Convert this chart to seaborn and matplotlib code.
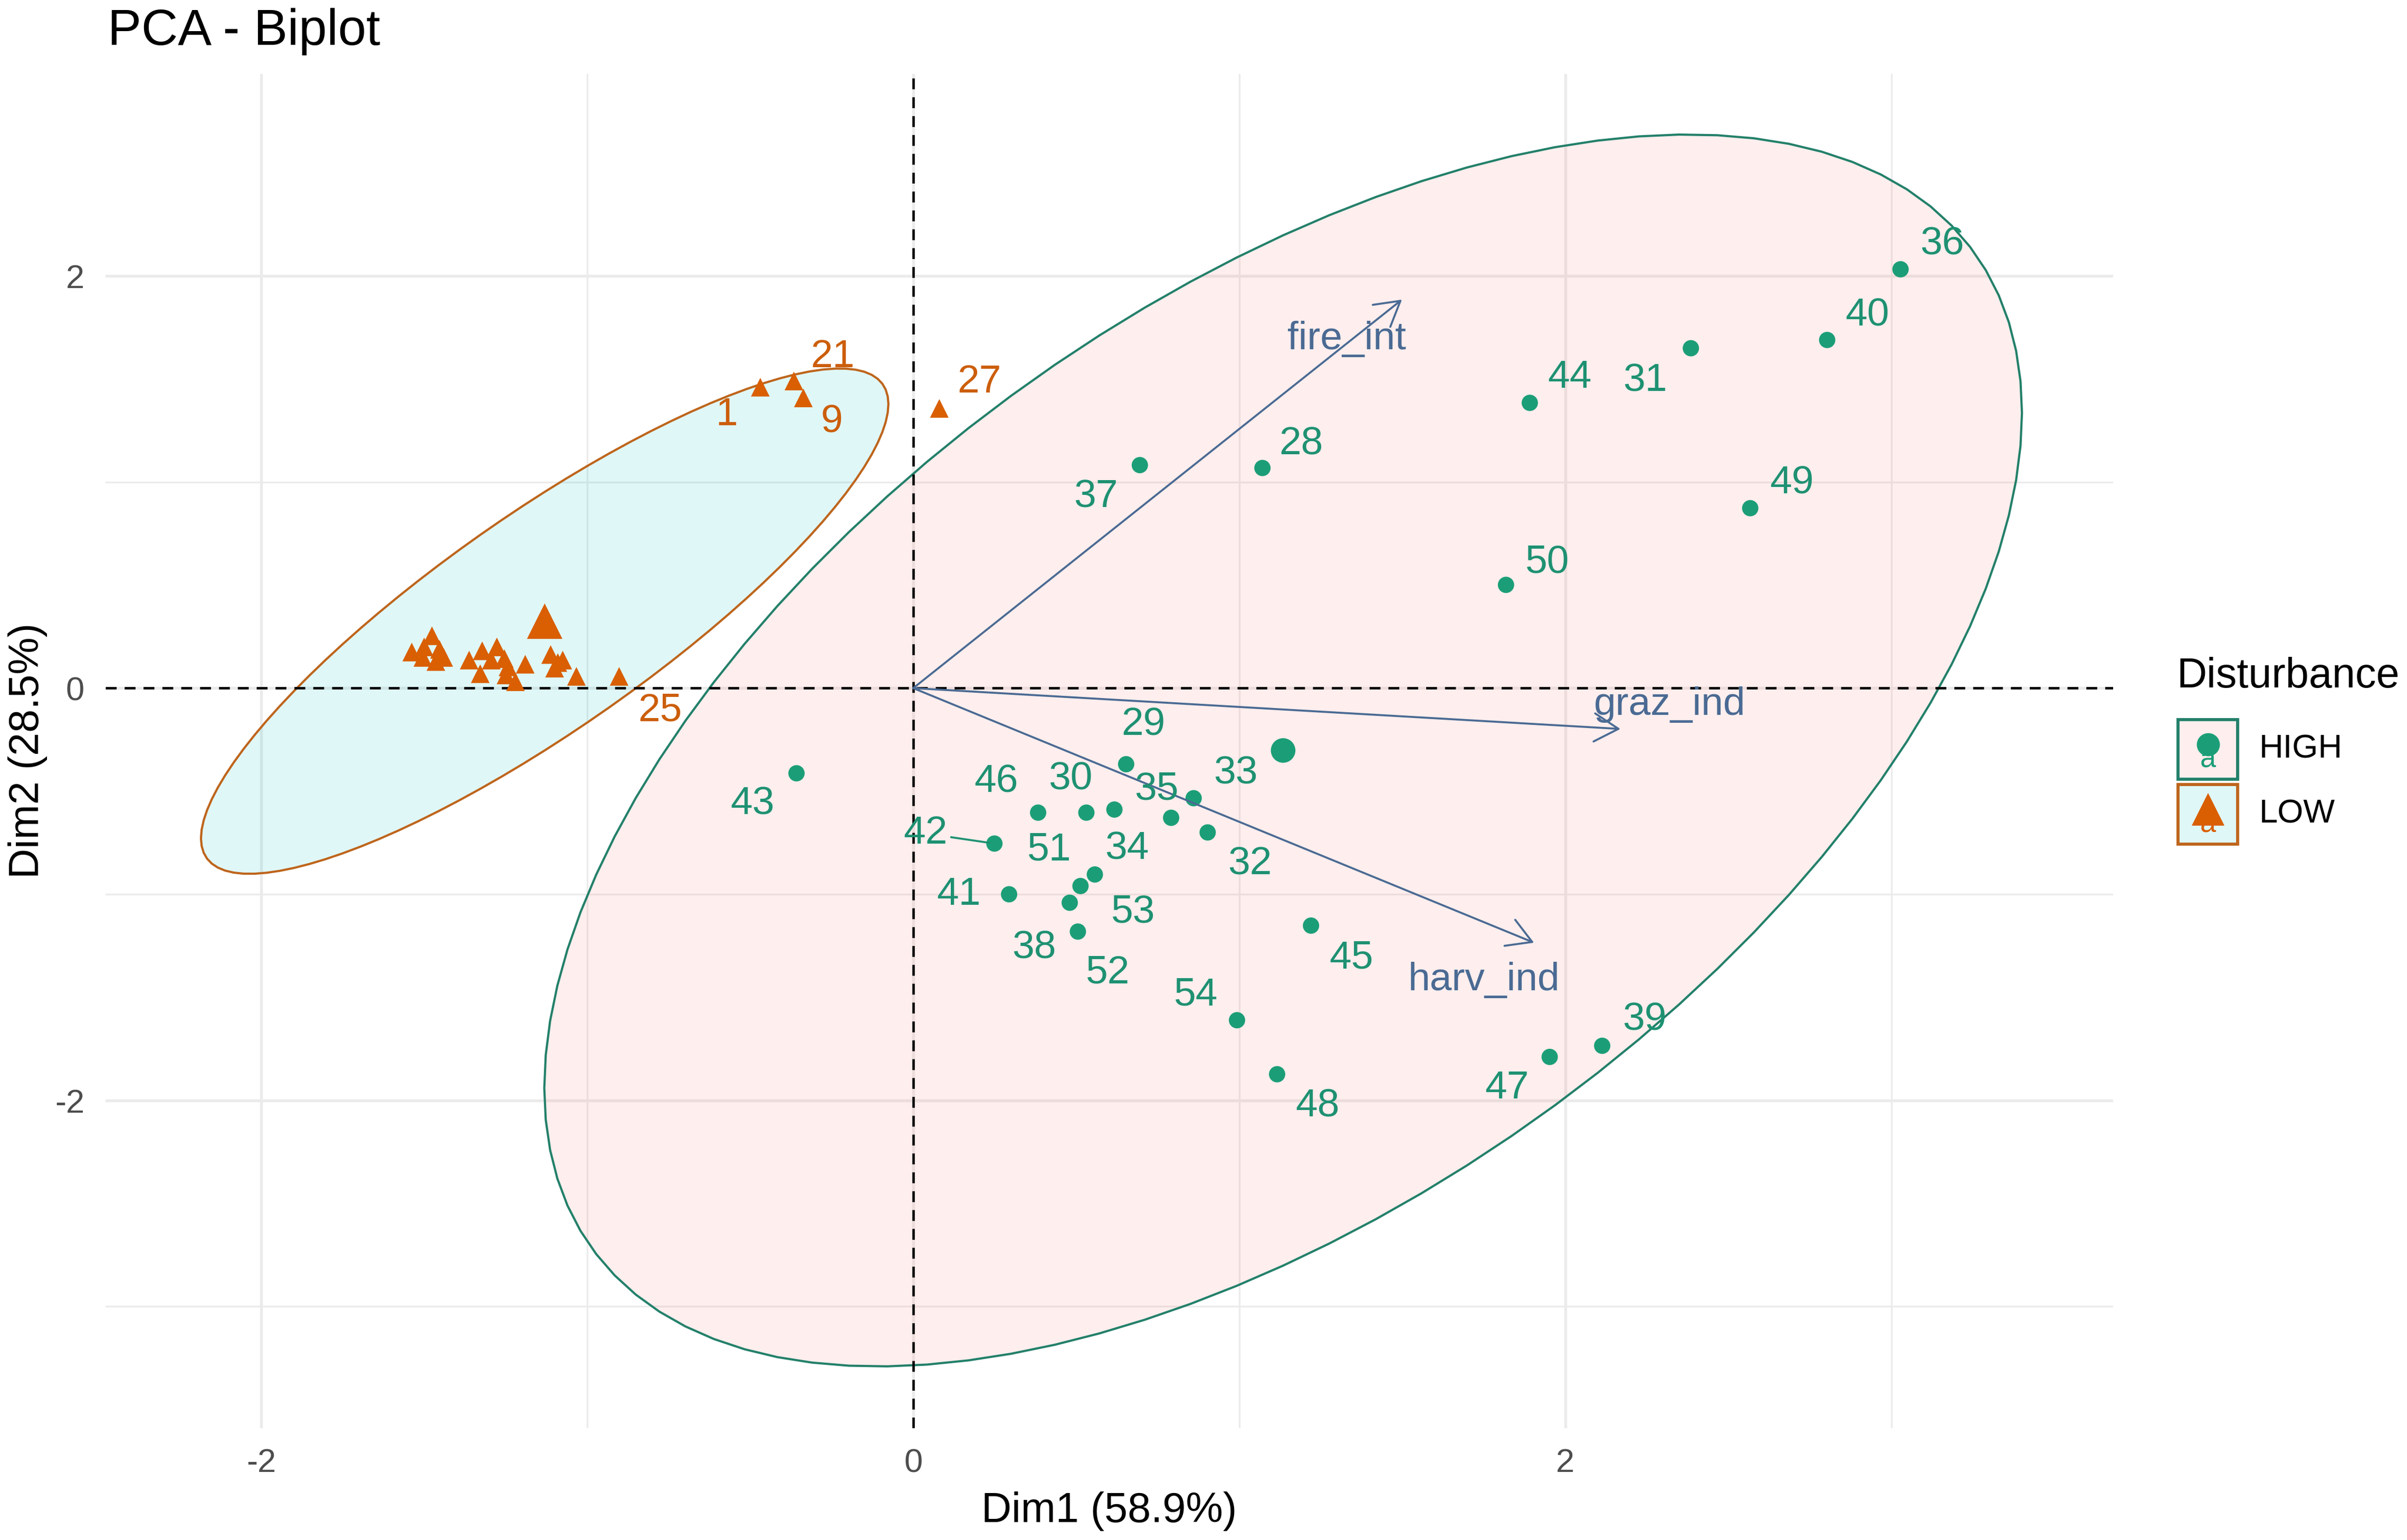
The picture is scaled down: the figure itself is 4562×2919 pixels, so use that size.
import numpy as np
import pandas as pd
import matplotlib
matplotlib.use("Agg")
import matplotlib.pyplot as plt
from matplotlib.patches import Polygon, Rectangle
from matplotlib.lines import Line2D
import seaborn as sns

# ---------------- data ----------------
groups = ["HIGH", "LOW"]

low_ids = [1, 21, 9, 27, 25,
           2, 3, 4, 5, 6, 7, 8, 10, 11, 12, 13, 14, 15, 16, 17, 18, 19, 20, 22, 23, 24, 26]
low_x = [-0.469, -0.366, -0.337, 0.080, -0.902,
         -1.538, -1.504, -1.476, -1.453, -1.464, -1.440, -1.362, -1.322, -1.328, -1.277,
         -1.294, -1.254, -1.243, -1.249, -1.220, -1.190, -1.112, -1.090, -1.075, -1.100,
         -1.033, -1.500]
low_y = [1.460, 1.490, 1.408, 1.357, 0.057,
         0.175, 0.149, 0.254, 0.188, 0.129, 0.149, 0.136, 0.181, 0.070, 0.200,
         0.136, 0.143, 0.103, 0.064, 0.031, 0.116, 0.163, 0.124, 0.136, 0.097,
         0.057, 0.200]

high_ids = list(range(28, 55))
high_x = [1.071, 0.653, 0.531, 2.385, 0.903, 0.860, 0.617, 0.791, 3.028, 0.695,
          0.505, 2.113, 2.803, 0.294, 0.249, -0.358, 1.891, 1.220, 0.383, 1.952,
          1.116, 2.567, 1.818, 0.480, 0.513, 0.557, 0.993]
high_y = [1.068, -0.369, -0.604, 1.649, -0.700, -0.534, -0.589, -0.629, 2.032, 1.082,
          -1.181, -1.735, 1.689, -1.000, -0.754, -0.413, 1.384, -1.152, -0.604, -1.789,
          -1.873, 0.873, 0.501, -1.041, -0.960, -0.904, -1.611]

# repelled label positions (as placed in the original figure)
low_lab_ids = [1, 9, 21, 25, 27]
low_lab_x = [-0.572, -0.250, -0.248, -0.777, 0.203]
low_lab_y = [1.326, 1.290, 1.607, -0.108, 1.483]

high_lab_x = [1.190, 0.706, 0.482, 2.245, 1.032, 0.989, 0.656, 0.746, 3.155, 0.560,
              0.370, 2.242, 2.926, 0.140, 0.038, -0.493, 2.014, 1.344, 0.255, 1.820,
              1.240, 2.695, 1.944, 0.417, 0.596, 0.674, 0.867]
high_lab_y = [1.186, -0.178, -0.443, 1.490, -0.854, -0.415, -0.780, -0.490, 2.153, 0.927,
              -1.258, -1.610, 1.807, -1.000, -0.705, -0.563, 1.506, -1.310, -0.454, -1.940,
              -2.027, 0.993, 0.611, -0.786, -1.380, -1.086, -1.490]
leader_ids = [42]

var_names = ["fire_int", "graz_ind", "harv_ind"]
var_x = [1.499, 2.169, 1.904]
var_y = [1.885, -0.198, -1.235]
var_lab_x = [1.330, 2.320, 1.751]
var_lab_y = [1.695, -0.080, -1.415]

x_title = "Dim1 (58.9%)"
y_title = "Dim2 (28.5%)"
plot_title = "PCA - Biplot"
legend_title = "Disturbance"

# ---------------- styles ----------------
pt_col = {"HIGH": "#1B9E77", "LOW": "#D95F02"}
txt_col = {"HIGH": "#1E9172", "LOW": "#CC5E0A"}
edge_col = {"HIGH": "#23806A", "LOW": "#BE651C"}
fill_col = {"HIGH": "#F8766D", "LOW": "#00BFC4"}
fill_alpha = 0.12
var_col = "#4A6A93"
markers = {"HIGH": "o", "LOW": "^"}

sns.set_theme(style="white")
plt.rcParams["font.family"] = ["Liberation Sans", "DejaVu Sans"]
plt.rcParams["axes.unicode_minus"] = False

W, H = 4562, 2919
DPI = 300
fig = plt.figure(figsize=(W / DPI, H / DPI), dpi=DPI)
fig.patch.set_facecolor("white")
ax = fig.add_axes([199.5 / W, 1 - 2707 / H, (4005 - 199.5) / W, (2707 - 140) / H])
ax.set_facecolor("white")

df = pd.DataFrame({
    "id": low_ids + high_ids,
    "x": low_x + high_x,
    "y": low_y + high_y,
    "group": ["LOW"] * len(low_ids) + ["HIGH"] * len(high_ids),
})

# ---- ellipses (stat_ellipse type="norm", level 0.95) ----
def norm_ellipse(x, y, level=0.95, segments=101):
    pts = np.column_stack([x, y])
    n = len(pts)
    center = pts.mean(axis=0)
    cov = np.cov(pts.T)
    dfd = n - 1
    fq = (dfd / 2.0) * ((1 - level) ** (-2.0 / dfd) - 1)  # qf(level, 2, dfd)
    radius = np.sqrt(2 * fq)
    U = np.linalg.cholesky(cov).T
    th = np.linspace(0, 2 * np.pi, segments)
    unit = np.column_stack([np.cos(th), np.sin(th)])
    return center + radius * unit @ U

for g in groups:
    sub = df[df.group == g]
    ell = norm_ellipse(sub.x.values, sub.y.values)
    ax.add_patch(Polygon(ell, closed=True, facecolor=fill_col[g], alpha=fill_alpha,
                         edgecolor="none", zorder=1))
    ax.add_patch(Polygon(ell, closed=True, facecolor="none", edgecolor=edge_col[g],
                         lw=1.0, zorder=2))

# ---- reference dashed lines ----
ax.axhline(0, color="black", lw=1.1, ls=(0, (4.5, 3.3)), zorder=3)
ax.axvline(0, color="black", lw=1.1, ls=(0, (4.5, 3.3)), zorder=3)

# ---- individuals ----
sns.scatterplot(data=df, x="x", y="y", hue="group", style="group", size="group",
                palette=pt_col, markers=markers, sizes={"HIGH": 55, "LOW": 72},
                linewidth=0, legend=False, ax=ax, zorder=4)

cent = df.groupby("group", as_index=False)[["x", "y"]].mean()
sns.scatterplot(data=cent, x="x", y="y", hue="group", style="group", size="group",
                palette=pt_col, markers=markers, sizes={"HIGH": 125, "LOW": 260},
                linewidth=0, legend=False, ax=ax, zorder=4)

# ---- variable arrows ----
for nm, vx, vy, lx, ly in zip(var_names, var_x, var_y, var_lab_x, var_lab_y):
    ax.annotate("", xy=(vx, vy), xytext=(0, 0),
                arrowprops=dict(arrowstyle="->,head_length=0.55,head_width=0.32",
                                color=var_col, lw=0.9, mutation_scale=20,
                                shrinkA=0, shrinkB=0), zorder=5)
    ax.text(lx, ly, nm, color=var_col, fontsize=18, ha="center", va="center", zorder=6)

# ---- individual labels ----
for lid, lx, ly in zip(low_lab_ids, low_lab_x, low_lab_y):
    ax.text(lx, ly, str(lid), color=txt_col["LOW"], fontsize=18, ha="center", va="center",
            zorder=6)
for lid, px, py, lx, ly in zip(high_ids, high_x, high_y, high_lab_x, high_lab_y):
    ax.text(lx, ly, str(lid), color=txt_col["HIGH"], fontsize=18, ha="center", va="center",
            zorder=6)
    if lid in leader_ids:
        sx, sy = lx + 0.37 * (px - lx), ly + 0.37 * (py - ly)
        ex, ey = lx + 0.93 * (px - lx), ly + 0.93 * (py - ly)
        ax.plot([sx, ex], [sy, ey], color=txt_col["HIGH"], lw=0.9, zorder=6)

# ---- axes / theme_minimal look ----
ax.set_xlim(-2.478, 3.68)
ax.set_ylim(-3.59, 2.98)
ax.set_xticks([-2, 0, 2])
ax.set_xticklabels(["-2", "0", "2"])
ax.set_yticks([-2, 0, 2])
ax.set_yticklabels(["-2", "0", "2"])
ax.set_xticks([-1, 1, 3], minor=True)
ax.set_yticks([-3, -1, 1], minor=True)
ax.grid(which="major", color="#EBEBEB", lw=1.3, zorder=0)
ax.grid(which="minor", color="#EBEBEB", lw=0.8, zorder=0)
ax.set_axisbelow(True)
for s in ax.spines.values():
    s.set_visible(False)
ax.tick_params(axis="both", which="both", length=0, labelsize=15.2, labelcolor="#4D4D4D")
ax.tick_params(axis="x", pad=9)
ax.tick_params(axis="y", pad=9.5)
ax.set_xlabel("")
ax.set_ylabel("")

fig.text(0.5 * (199.5 + 4005) / W, 1 - 2864 / H, x_title, fontsize=19, color="black",
         ha="center", va="center")
fig.text(52 / W, 1 - 1423 / H, y_title, fontsize=19, color="black",
         ha="center", va="center", rotation=90)
fig.text(204 / W, 1 - 85 / H, plot_title, fontsize=23, color="black",
         ha="left", va="baseline")

# ---- legend (ggplot style keys) ----
fig.text(4125 / W, 1 - 1283 / H, legend_title, fontsize=19, color="black",
         ha="left", va="center")
key_w, key_h = 113 / W, 113 / H
key_left = 4128 / W
key_cy = [1 - 1420 / H, 1 - 1543 / H]
key_ms = {"HIGH": 10.5, "LOW": 15}
for g, cy in zip(groups, key_cy):
    fig.add_artist(Rectangle((key_left, cy - key_h / 2), key_w, key_h,
                             transform=fig.transFigure, facecolor="white",
                             edgecolor="none", zorder=1))
    fig.add_artist(Rectangle((key_left, cy - key_h / 2), key_w, key_h,
                             transform=fig.transFigure, facecolor=fill_col[g],
                             alpha=fill_alpha, edgecolor="none", zorder=2))
    fig.add_artist(Rectangle((key_left, cy - key_h / 2), key_w, key_h,
                             transform=fig.transFigure, facecolor="none",
                             edgecolor=edge_col[g], lw=1.4, zorder=3))
    cx = key_left + key_w / 2
    fig.text(cx, cy - 0.007, "a", fontsize=13, color=pt_col[g], ha="center",
             va="center", zorder=4)
    fig.add_artist(Line2D([cx], [cy + 0.003], marker=markers[g], markersize=key_ms[g],
                          color=pt_col[g], markeredgewidth=0, transform=fig.transFigure,
                          zorder=5))
    fig.text(4282 / W, cy, g, fontsize=15.2, color="black", ha="left", va="center")

fig.savefig("out.png", dpi=DPI, facecolor="white")
